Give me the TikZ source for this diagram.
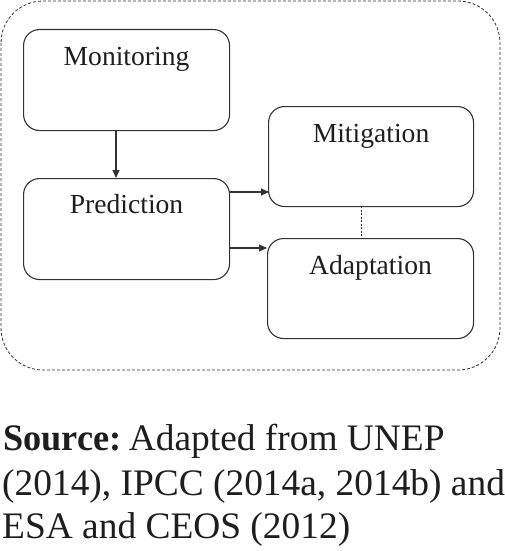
\documentclass[tikz,border=0pt]{standalone}
\usepackage{fontspec}
\setmainfont{Liberation Serif}
\usetikzlibrary{arrows.meta,calc}
\definecolor{linec}{HTML}{333333}
\definecolor{txtc}{HTML}{1E1E1E}
\tikzset{
  stagebox/.style={draw=linec, line width=1.1pt, rounded corners=16pt, minimum width=206pt, minimum height=101pt, inner sep=0pt, anchor=north west},
  stagetext/.style={anchor=base, font=\fontsize{27.6}{30}\selectfont, text=txtc, inner sep=0pt},
  flow/.style={draw=linec, line width=1.1pt, -{Triangle[length=8pt,width=7pt]}},
  linkdash/.style={draw=linec, line width=0.7pt, dash pattern=on 2pt off 1.5pt},
  frame/.style={draw=linec, line width=0.8pt, dash pattern=on 3pt off 2pt, rounded corners=42pt},
  srctext/.style={anchor=base west, font=\fontsize{37.4}{44}\selectfont, text=txtc, inner sep=0pt}
}
\begin{document}
\begin{tikzpicture}[x=1pt,y=-1pt]
\useasboundingbox (0,0) rectangle (505,551);
\draw[frame] (1,1) rectangle (500,370);
\node[stagebox] (mon) at (23,29) {};
\node[stagebox] (pred) at (23,178) {};
\node[stagebox, minimum width=205pt, minimum height=100pt] (mit) at (268,106) {};
\node[stagebox, minimum width=206pt, minimum height=100pt] (ada) at (267,238) {};
\node[stagetext] (monT) at ($(mon.north)+(0,36)$) {Monitoring};
\node[stagetext] (predT) at ($(pred.north)+(0,35)$) {Prediction};
\node[stagetext] (mitT) at ($(mit.north)+(0,36)$) {Mitigation};
\node[stagetext] (adaT) at ($(ada.north)+(0,36)$) {Adaptation};
\coordinate (m1) at (116,130);
\draw[flow] (m1) -- (m1 |- pred.north);
\coordinate (p1) at (229,192);
\coordinate (p2) at (229,248);
\draw[flow] (p1) -- (269,192);
\draw[flow] (p2) -- (p2 -| ada.west);
\coordinate (d1) at (361,206);
\draw[linkdash] (d1) -- (d1 |- ada.north);
\node[srctext] (src1) at (3,450) {\scalebox{0.97}[1]{\textbf{Source:}}\hspace{0.2em}Adapted from UNEP};
\node[srctext] (src2) at (2,495) {(2014), IPCC (2014a, 2014b) and};
\node[srctext] (src3) at (2,538) {ESA and CEOS (2012)};
\end{tikzpicture}
\end{document}
